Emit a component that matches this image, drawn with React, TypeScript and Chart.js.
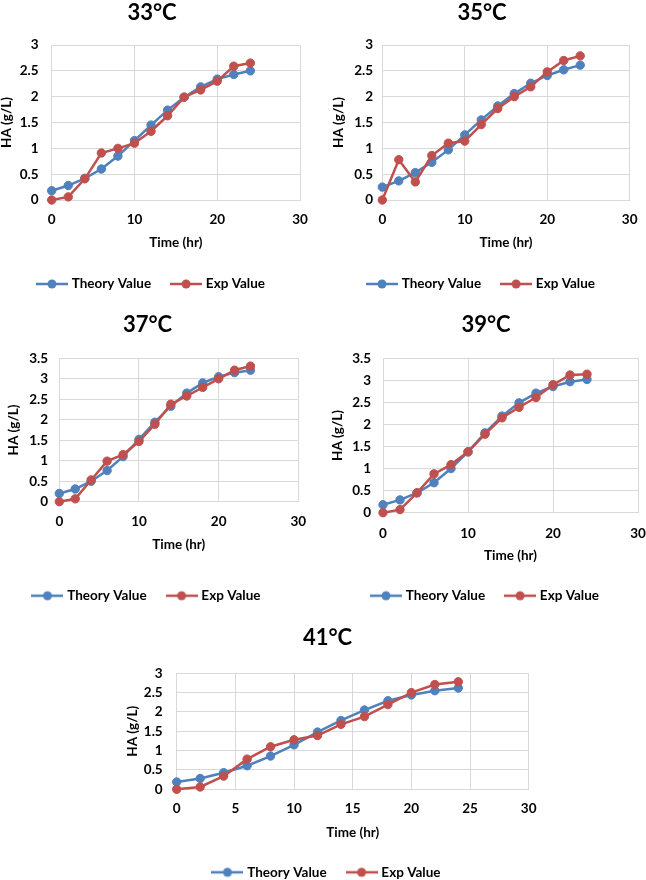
import { useEffect, useRef } from 'react';
import { Chart, registerables } from 'chart.js';

Chart.register(...registerables);

// sampling times (hr)
const time = [0, 2, 4, 6, 8, 10, 12, 14, 16, 18, 20, 22, 24];

// HA (g/L)
const theory33 = [0.18, 0.28, 0.42, 0.6, 0.85, 1.15, 1.45, 1.74, 1.99, 2.19, 2.34, 2.43, 2.5];
const exp33 = [0, 0.06, 0.41, 0.91, 1.0, 1.1, 1.33, 1.63, 1.99, 2.13, 2.3, 2.59, 2.65];
const theory35 = [0.25, 0.37, 0.53, 0.73, 0.97, 1.26, 1.55, 1.82, 2.06, 2.26, 2.41, 2.52, 2.61];
const exp35 = [0, 0.78, 0.35, 0.86, 1.1, 1.14, 1.46, 1.77, 2.0, 2.19, 2.48, 2.7, 2.79];
const theory37 = [0.2, 0.31, 0.5, 0.76, 1.1, 1.52, 1.94, 2.33, 2.65, 2.9, 3.05, 3.15, 3.21];
const exp37 = [0, 0.07, 0.53, 0.99, 1.15, 1.47, 1.89, 2.38, 2.58, 2.79, 3.0, 3.21, 3.31];
const theory39 = [0.18, 0.29, 0.45, 0.68, 1.0, 1.38, 1.81, 2.19, 2.49, 2.71, 2.86, 2.97, 3.02];
const exp39 = [0, 0.07, 0.45, 0.88, 1.09, 1.38, 1.78, 2.15, 2.39, 2.61, 2.9, 3.12, 3.14];
const theory41 = [0.19, 0.28, 0.43, 0.61, 0.86, 1.15, 1.48, 1.78, 2.05, 2.29, 2.44, 2.55, 2.62];
const exp41 = [0, 0.06, 0.34, 0.78, 1.1, 1.28, 1.39, 1.68, 1.88, 2.19, 2.5, 2.71, 2.78];

const seriesNames = ['Theory Value', 'Exp Value'];
const xTitle = 'Time (hr)';
const yTitle = 'HA (g/L)';

const BLUE = '#4F81BD';
const RED = '#C0504D';
const GRID = '#D9D9D9';
const INK = '#000';
const FONT = 'Lato, "Open Sans", sans-serif';

const TITLE_SIZE = 22;
const TEXT_SIZE = 13.5;
const LEGEND_PAD = 22;

type Box = {
  plotL: number; plotR: number; plotT: number; plotB: number;
  titleCX: number; titleCY: number; tickY: number; xTitleY: number;
  legendY: number; yTitleX: number; yLabelRight: number;
};

type Panel = { title: string; theory: number[]; exp: number[]; yMax: number; xStep: number; box: Box };

const panels: Panel[] = [
  {
    title: '33°C', theory: theory33, exp: exp33, yMax: 3, xStep: 10,
    box: { plotL: 51.7, plotR: 300, plotT: 45, plotB: 200, titleCX: 152, titleCY: 12.8, tickY: 220, xTitleY: 242.3, legendY: 284, yTitleX: 7, yLabelRight: 38.5 },
  },
  {
    title: '35°C', theory: theory35, exp: exp35, yMax: 3, xStep: 10,
    box: { plotL: 382.3, plotR: 629.7, plotT: 45, plotB: 200, titleCX: 482, titleCY: 12.8, tickY: 220, xTitleY: 243, legendY: 284, yTitleX: 338.3, yLabelRight: 373 },
  },
  {
    title: '37°C', theory: theory37, exp: exp37, yMax: 3.5, xStep: 10,
    box: { plotL: 59.3, plotR: 298.3, plotT: 358.3, plotB: 501.7, titleCX: 147.5, titleCY: 325, tickY: 521.7, xTitleY: 545, legendY: 595.7, yTitleX: 13.7, yLabelRight: 48 },
  },
  {
    title: '39°C', theory: theory39, exp: exp39, yMax: 3.5, xStep: 10,
    box: { plotL: 383, plotR: 638, plotT: 358.3, plotB: 512.7, titleCX: 486, titleCY: 325, tickY: 533.3, xTitleY: 556, legendY: 595.7, yTitleX: 338, yLabelRight: 371 },
  },
  {
    title: '41°C', theory: theory41, exp: exp41, yMax: 3, xStep: 5,
    box: { plotL: 176.7, plotR: 528.7, plotT: 673.3, plotB: 789.3, titleCX: 327.5, titleCY: 638.3, tickY: 808.3, xTitleY: 832.3, legendY: 872.3, yTitleX: 132.5, yLabelRight: 162.7 },
  },
];

// work out canvas box + paddings so the plot area lands where it should
function geometry(b: Box) {
  const titleHalf = (TITLE_SIZE * 1.2) / 2;
  const textHalf = (TEXT_SIZE * 1.2) / 2;
  const scaleLeft = 2 * b.titleCX - b.plotR;
  const L = Math.floor(scaleLeft) - 4;
  const R = Math.min(646, Math.ceil(b.plotR + 16));
  const T = Math.floor(b.titleCY - titleHalf);
  const legendH = TEXT_SIZE + LEGEND_PAD + 10;
  const legendTop = b.legendY - (LEGEND_PAD + TEXT_SIZE / 2);
  const B = Math.ceil(legendTop + legendH);
  return {
    L, T, W: R - L, H: B - T,
    padL: scaleLeft - L,
    padR: R - b.plotR,
    padB: B - (legendTop + legendH),
    titleTop: b.titleCY - titleHalf - T,
    titleBottom: b.plotT - (b.titleCY + titleHalf),
    xAxisH: legendTop - b.plotB,
    yAxisW: b.plotL - scaleLeft,
    xTickPad: b.tickY - b.plotB - textHalf,
    xTitlePad: legendTop - b.xTitleY - textHalf,
    yTickPad: b.plotL - b.yLabelRight,
    yTitlePad: b.yTitleX - textHalf - scaleLeft,
  };
}

function legendMarker(color: string) {
  const c = document.createElement('canvas');
  c.width = 32;
  c.height = 12;
  const ctx = c.getContext('2d')!;
  ctx.strokeStyle = color;
  ctx.lineWidth = 2.5;
  ctx.beginPath();
  ctx.moveTo(0, 6);
  ctx.lineTo(32, 6);
  ctx.stroke();
  ctx.fillStyle = color;
  ctx.beginPath();
  ctx.arc(16, 6, 4.5, 0, Math.PI * 2);
  ctx.fill();
  return c;
}

const textFont = { family: FONT, size: TEXT_SIZE, weight: 'bold' as const, lineHeight: 1.2 };

function PanelChart({ panel }: { panel: Panel }) {
  const canvasRef = useRef<HTMLCanvasElement>(null);
  const g = geometry(panel.box);

  useEffect(() => {
    if (!canvasRef.current) return;
    const colors = [BLUE, RED];
    const markers = colors.map(legendMarker);
    const series = [panel.theory, panel.exp];

    const chart = new Chart(canvasRef.current, {
      type: 'line',
      data: {
        datasets: series.map((vals, i) => ({
          label: seriesNames[i],
          data: time.map((t, j) => ({ x: t, y: vals[j] })),
          borderColor: colors[i],
          backgroundColor: colors[i],
          pointBackgroundColor: colors[i],
          pointBorderColor: colors[i],
          borderWidth: 2.5,
          pointRadius: 4.2,
          pointBorderWidth: 1,
          tension: 0,
          clip: 10,
          order: i === 0 ? 1 : 0,
        })),
      },
      options: {
        animation: false,
        responsive: true,
        maintainAspectRatio: false,
        layout: { padding: { left: g.padL, right: g.padR, top: 0, bottom: g.padB } },
        plugins: {
          title: {
            display: true,
            text: panel.title,
            color: INK,
            font: { family: FONT, size: TITLE_SIZE, weight: 'bold', lineHeight: 1.2 },
            padding: { top: g.titleTop, bottom: g.titleBottom },
          },
          legend: {
            position: 'bottom',
            labels: {
              usePointStyle: true,
              pointStyleWidth: 26,
              padding: LEGEND_PAD,
              color: INK,
              font: textFont,
              generateLabels: (c: Chart) =>
                c.data.datasets.map((ds: any, i: number) => ({
                  text: ds.label,
                  fillStyle: colors[i],
                  strokeStyle: colors[i],
                  lineWidth: 0,
                  pointStyle: markers[i],
                  hidden: false,
                  datasetIndex: i,
                  fontColor: INK,
                })),
            },
          },
          tooltip: { enabled: false },
        },
        scales: {
          x: {
            type: 'linear',
            min: 0,
            max: 30,
            ticks: { stepSize: panel.xStep, padding: g.xTickPad, color: INK, font: textFont, callback: (v) => String(v) },
            grid: { color: GRID, drawTicks: false },
            border: { color: GRID },
            title: { display: true, text: xTitle, color: INK, font: textFont, padding: { top: 0, bottom: g.xTitlePad } },
            afterFit: (s: any) => {
              s.height = g.xAxisH;
              s.paddingLeft = 0;
              s.paddingRight = 0;
            },
          },
          y: {
            min: 0,
            max: panel.yMax,
            ticks: { stepSize: 0.5, padding: g.yTickPad, color: INK, font: textFont, callback: (v) => String(v) },
            grid: { color: GRID, drawTicks: false },
            border: { color: GRID },
            title: { display: true, text: yTitle, color: INK, font: textFont, padding: { top: g.yTitlePad, bottom: 0 } },
            afterFit: (s: any) => {
              s.width = g.yAxisW;
              s.paddingTop = 0;
              s.paddingBottom = 0;
            },
          },
        },
      },
    });
    return () => chart.destroy();
  }, []);

  return (
    <div style={{ position: 'absolute', left: g.L, top: g.T, width: g.W, height: g.H }}>
      <canvas ref={canvasRef} />
    </div>
  );
}

export default function App() {
  return (
    <div style={{ position: 'fixed', left: 0, top: 0, width: 646, height: 880, overflow: 'hidden', background: '#fff' }}>
      {panels.map((p) => (
        <PanelChart key={p.title} panel={p} />
      ))}
    </div>
  );
}
